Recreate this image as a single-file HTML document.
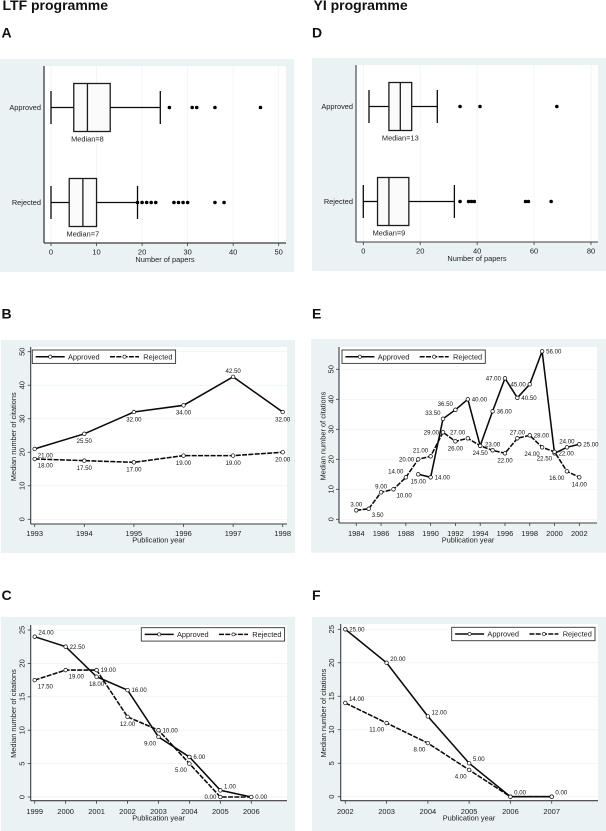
<!DOCTYPE html>
<html lang="en">
<head>
<meta charset="utf-8">
<title>LTF and YI programme charts</title>
<style>
  html, body { margin: 0; padding: 0; background: #ffffff; }
  #figure { display: block; width: 606px; height: 831px; font-family: "Liberation Sans", Arial, sans-serif; filter: blur(0.25px); }
  .heading { font-weight: bold; font-size: 14px; fill: #111111; }
</style>
</head>
<body>
<svg id="figure" xmlns="http://www.w3.org/2000/svg" width="606" height="831" viewBox="0 0 606 831">
  <rect x="0" y="0" width="606" height="831" fill="#ffffff"/>
  <text class="heading" x="2.5" y="10">LTF programme</text>
  <text class="heading" x="313.5" y="10">YI programme</text>
  <text class="heading" x="1.5" y="37.7">A</text>
  <text class="heading" x="1.5" y="318.5">B</text>
  <text class="heading" x="1.5" y="600">C</text>
  <text class="heading" x="312" y="37.7">D</text>
  <text class="heading" x="312" y="318.5">E</text>
  <text class="heading" x="312" y="600">F</text>
</svg>
<script>
// ---------- Panel A data ----------
const panelAApprovedBox = [0, 5, 8, 13, 24];
const panelARejectedBox = [0, 4, 7, 10, 19];
const panelAApprovedOutliers = [26, 31, 32, 36, 46];
const panelARejectedOutliers = [19, 20, 21, 22, 23, 27, 28, 29, 30, 36, 38];
const panelAXTicks = [0, 10, 20, 30, 40, 50];

// ---------- Panel D data ----------
const panelDApprovedBox = [2, 9, 13, 17, 26];
const panelDRejectedBox = [0, 5, 9, 16, 32];
const panelDApprovedOutliers = [34, 41, 68];
const panelDRejectedOutliers = [34, 37, 38, 39, 57, 58, 66];
const panelDXTicks = [0, 20, 40, 60, 80];

// ---------- Panel B data ----------
const panelBYears = [1993, 1994, 1995, 1996, 1997, 1998];
const panelBApproved = [21, 25.5, 32, 34, 42.5, 32];
const panelBRejected = [18, 17.5, 17, 19, 19, 20];
const panelBXTicks = [1993, 1994, 1995, 1996, 1997, 1998];
const panelBYTicks = [0, 10, 20, 30, 40, 50];

// ---------- Panel E data ----------
const panelEApprovedYears = [1989, 1990, 1991, 1992, 1993, 1994, 1995, 1996, 1997, 1998, 1999, 2000, 2001, 2002];
const panelEApproved = [15, 14, 33.5, 36.5, 40, 24.5, 36, 47, 40.5, 45, 56, 22, 24, 25];
const panelERejectedYears = [1984, 1985, 1986, 1987, 1988, 1989, 1990, 1991, 1992, 1993, 1994, 1995, 1996, 1997, 1998, 1999, 2000, 2001, 2002];
const panelERejected = [3, 3.5, 9, 10, 14, 20, 21, 29, 26, 27, 24.5, 23, 22, 27, 28, 24, 22.5, 16, 14];
const panelEXTicks = [1984, 1986, 1988, 1990, 1992, 1994, 1996, 1998, 2000, 2002];
const panelEYTicks = [0, 10, 20, 30, 40, 50];

// ---------- Panel C data ----------
const panelCYears = [1999, 2000, 2001, 2002, 2003, 2004, 2005, 2006];
const panelCApproved = [24, 22.5, 18, 16, 9, 6, 1, 0];
const panelCRejected = [17.5, 19, 19, 12, 10, 5, 0, 0];
const panelCXTicks = [1999, 2000, 2001, 2002, 2003, 2004, 2005, 2006];
const panelCYTicks = [0, 5, 10, 15, 20, 25];

// ---------- Panel F data ----------
const panelFYears = [2002, 2003, 2004, 2005, 2006, 2007];
const panelFApproved = [25, 20, 12, 5, 0, 0];
const panelFRejected = [14, 11, 8, 4, 0, 0];
const panelFXTicks = [2002, 2003, 2004, 2005, 2006, 2007];
const panelFYTicks = [0, 5, 10, 15, 20, 25];

// ---------- Value-label placement, by compass direction from each point ----------
const placeBApproved = ['SE', 'S', 'S', 'S', 'N', 'S'];
const placeBRejected = ['SE', 'S', 'S', 'S', 'S', 'S'];
const placeEApproved = ['S', 'E', 'NW', 'NW', 'E', '', 'E', 'W', 'E', 'W', 'E', 'E', 'N', 'E'];
const placeERejected = ['N', 'SE', 'N', 'SE', 'NW', 'W', 'NW', 'W', 'S', 'NW', 'S', 'N', 'S', 'N', 'E', 'SW', 'SW', 'SW', 'S'];
const placeCApproved = ['NE', 'E', 'S', 'E', 'SW', 'E', 'NE', 'E'];
const placeCRejected = ['SE', 'SE', 'E', 'S', 'E', 'SW', 'W', ''];
const placeFApproved = ['E', 'NE', 'NE', 'NE', 'NE', 'NE'];
const placeFRejected = ['NE', 'SW', 'SW', 'SW', '', ''];

// ---------- Drawing helpers ----------
const NS = 'http://www.w3.org/2000/svg';
const root = document.getElementById('figure');
const INK = '#0a0a0a';
const AXIS = '#3c3c3c';
const GRID = '#eaf2f3';
const PANEL = '#eaf2f3';
const TEXT = '#222222';

function make(tag, parent, props) {
  const el = document.createElementNS(NS, tag);
  for (const key in props) el.setAttribute(key, props[key]);
  parent.appendChild(el);
  return el;
}
function scale(d0, d1, p0, p1) {
  return function (v) { return p0 + (v - d0) * (p1 - p0) / (d1 - d0); };
}
const compass = {
  N:  { anchor: 'middle', dx: 0,    dy: -3.9 },
  S:  { anchor: 'middle', dx: 0,    dy: 9.4 },
  E:  { anchor: 'start',  dx: 4,    dy: 2.1 },
  W:  { anchor: 'end',    dx: -4,   dy: 2.1 },
  NE: { anchor: 'start',  dx: 3.7,  dy: -2 },
  NW: { anchor: 'end',    dx: -2.5, dy: -3.6 },
  SE: { anchor: 'start',  dx: 3,    dy: 8.4 },
  SW: { anchor: 'end',    dx: -2.5, dy: 8.6 }
};

function drawFrame(layout, key, xTicks, yTicks, xLabel) {
  const g = make('g', root, {});
  
  

  const bg = make('rect', g, { x: layout.bg[0], y: layout.bg[1], width: layout.bg[2], height: layout.bg[3], fill: PANEL });
  
  

  const plot = make('rect', g, { x: layout.left, y: layout.top, width: layout.right - layout.left, height: layout.bottom - layout.top, fill: '#ffffff' });
  
  

  const xOf = scale(layout.x[0], layout.x[1], layout.x[2], layout.x[3]);
  const yOf = layout.y ? scale(layout.y[0], layout.y[1], layout.y[2], layout.y[3]) : null;

  if (layout.vGrid) {
    xTicks.forEach(function (t) {
      const line = make('line', g, { x1: xOf(t), x2: xOf(t), y1: layout.top, y2: layout.bottom, stroke: GRID, 'stroke-width': 0.7 });
      
      
    });
  }
  if (yOf) {
    yTicks.forEach(function (t) {
      const line = make('line', g, { x1: layout.left, x2: layout.right, y1: yOf(t), y2: yOf(t), stroke: GRID, 'stroke-width': 0.7 });
      
      
      const tick = make('line', g, { x1: layout.left - 3, x2: layout.left, y1: yOf(t), y2: yOf(t), stroke: AXIS, 'stroke-width': 0.8 });
      
      
      const tx = layout.yTickX, ty = yOf(t);
      const lab = make('text', g, { x: tx, y: ty, 'text-anchor': 'middle', 'font-size': 7.5, fill: TEXT, transform: 'rotate(-90 ' + tx + ' ' + ty + ')' });
      lab.textContent = t;
      
      
    });
    const mid = layout.yTitleY;
    const title = make('text', g, { x: layout.yTitleX, y: mid, 'text-anchor': 'middle', 'font-size': 7.4, fill: TEXT, transform: 'rotate(-90 ' + layout.yTitleX + ' ' + mid + ')' });
    title.textContent = 'Median number of citations';
    
    
  }

  const yAxis = make('line', g, { x1: layout.left, x2: layout.left, y1: layout.top, y2: layout.bottom, stroke: AXIS, 'stroke-width': layout.axisWidth });
  
  

  const xAxis = make('line', g, { x1: layout.left, x2: layout.right, y1: layout.bottom, y2: layout.bottom, stroke: AXIS, 'stroke-width': layout.axisWidth });
  
  

  xTicks.forEach(function (t) {
    const tick = make('line', g, { x1: xOf(t), x2: xOf(t), y1: layout.bottom, y2: layout.bottom + 3, stroke: AXIS, 'stroke-width': 0.8 });
    
    
    const lab = make('text', g, { x: xOf(t), y: layout.xTickY, 'text-anchor': 'middle', 'font-size': 7.5, fill: TEXT });
    lab.textContent = t;
    
    
  });

  const xTitle = make('text', g, { x: layout.xTitleX, y: layout.xTitleY, 'text-anchor': 'middle', 'font-size': 7.4, fill: TEXT });
  xTitle.textContent = xLabel;
  
  

  return { g: g, xOf: xOf, yOf: yOf };
}

function drawBoxRow(frame, layout, rowY, name, stats, outliers) {
  const xOf = frame.xOf;
  const g = make('g', frame.g, {});
  
  

  const cat = make('text', g, { x: layout.left - 3, y: rowY + 2.5, 'text-anchor': 'end', 'font-size': 7.4, fill: TEXT });
  cat.textContent = name === 'approved' ? 'Approved' : 'Rejected';
  
  

  const lowWhisker = make('line', g, { x1: xOf(stats[0]), x2: xOf(stats[1]), y1: rowY, y2: rowY, stroke: INK, 'stroke-width': 1.3 });
  
  

  const highWhisker = make('line', g, { x1: xOf(stats[3]), x2: xOf(stats[4]), y1: rowY, y2: rowY, stroke: INK, 'stroke-width': 1.3 });
  
  

  const lowCap = make('line', g, { x1: xOf(stats[0]), x2: xOf(stats[0]), y1: rowY - 16.5, y2: rowY + 16.5, stroke: INK, 'stroke-width': 1.3 });
  
  

  const highCap = make('line', g, { x1: xOf(stats[4]), x2: xOf(stats[4]), y1: rowY - 16.5, y2: rowY + 16.5, stroke: INK, 'stroke-width': 1.3 });
  
  

  const box = make('rect', g, { x: xOf(stats[1]), y: rowY - 24, width: xOf(stats[3]) - xOf(stats[1]), height: 48, fill: '#fbfbfb', stroke: '#1c1c1c', 'stroke-width': 1.3 });
  
  

  const med = make('line', g, { x1: xOf(stats[2]), x2: xOf(stats[2]), y1: rowY - 24, y2: rowY + 24, stroke: '#1c1c1c', 'stroke-width': 1.3 });
  
  

  outliers.forEach(function (v) {
    const dot = make('circle', g, { cx: xOf(v), cy: rowY, r: 1.8, fill: '#000000' });
    
    
  });

  const label = make('text', g, { x: xOf(stats[2]), y: rowY + 34, 'text-anchor': 'middle', 'font-size': 7.4, fill: TEXT });
  label.textContent = 'Median=' + stats[2];
  
  
}

function drawSeries(frame, name, years, values, places, dash) {
  const xOf = frame.xOf, yOf = frame.yOf;
  const g = make('g', frame.g, {});
  
  

  const pts = years.map(function (yr, i) { return xOf(yr).toFixed(2) + ',' + yOf(values[i]).toFixed(2); }).join(' ');
  const line = make('polyline', g, { points: pts, fill: 'none', stroke: INK, 'stroke-width': 1.55, 'stroke-linejoin': 'miter' });
  if (dash) line.setAttribute('stroke-dasharray', '5 1.3');
  
  

  years.forEach(function (yr, i) {
    const mark = make('circle', g, { cx: xOf(yr), cy: yOf(values[i]), r: 1.8, fill: '#ffffff', stroke: INK, 'stroke-width': 0.7 });
    
    
  });

  years.forEach(function (yr, i) {
    const place = compass[places[i]];
    if (!place) return;
    const lab = make('text', g, { x: xOf(yr) + place.dx, y: yOf(values[i]) + place.dy, 'text-anchor': place.anchor, 'font-size': 6.1, fill: '#111111' });
    lab.textContent = values[i].toFixed(2);
    
    
  });
}

function drawLegend(frame, x, y) {
  const g = make('g', frame.g, {});
  
  

  const box = make('rect', g, { x: x, y: y, width: 143.3, height: 13.4, fill: '#ffffff', stroke: '#333333', 'stroke-width': 0.9 });
  
  

  const entries = [
    { name: 'approved', text: 'Approved', start: 3.4, textAt: 35.7, dash: false },
    { name: 'rejected', text: 'Rejected', start: 77.7, textAt: 111, dash: true }
  ];
  entries.forEach(function (en) {
    const sample = make('line', g, { x1: x + en.start, x2: x + en.start + 29, y1: y + 6.7, y2: y + 6.7, stroke: INK, 'stroke-width': 1.5 });
    if (en.dash) sample.setAttribute('stroke-dasharray', '5 1.3');
    
    

    const mark = make('circle', g, { cx: x + en.start + 14.5, cy: y + 6.7, r: 1.6, fill: '#ffffff', stroke: INK, 'stroke-width': 0.6 });
    
    

    const label = make('text', g, { x: x + en.textAt, y: y + 9.4, 'font-size': 7.4, fill: TEXT });
    label.textContent = en.text;
    
    
  });
}

// ---------- Panel layouts ----------
const layoutA = { bg: [0, 59, 294, 213], left: 44, right: 286, top: 66, bottom: 243, x: [0, 50, 51, 278.7], axisWidth: 1.3, vGrid: true, xTickY: 254.5, xTitleX: 165, xTitleY: 262, rows: [107.5, 202.5] };
const layoutD = { bg: [312, 58, 294, 213], left: 356, right: 598, top: 65, bottom: 242, x: [0, 80, 363.3, 591], axisWidth: 1.1, vGrid: true, xTickY: 253.5, xTitleX: 477, xTitleY: 261, rows: [106.5, 201.5] };
const layoutB = { bg: [1, 340, 294, 213], left: 30.7, right: 287, top: 347, bottom: 524, x: [1993, 1998, 34.7, 282.7], y: [0, 50, 519.3, 351.7], axisWidth: 1.1, yTickX: 24.3, yTitleX: 16, yTitleY: 436.7, xTickY: 536, xTitleX: 158.5, xTitleY: 542.5 };
const layoutE = { bg: [311, 339, 295, 213.7], left: 339, right: 597, top: 347, bottom: 523, x: [1984, 2002, 356.3, 579.3], y: [0, 50, 519.3, 369.3], axisWidth: 1.1, yTickX: 333.3, yTitleX: 325.5, yTitleY: 436, xTickY: 536, xTitleX: 468, xTitleY: 542.5 };
const layoutC = { bg: [1, 617, 294, 214], left: 30.7, right: 287, top: 625, bottom: 800.7, x: [1999, 2006, 34.7, 251.3], y: [0, 25, 797, 630], axisWidth: 1.1, yTickX: 24.3, yTitleX: 16, yTitleY: 713.5, xTickY: 814, xTitleX: 158.5, xTitleY: 820.5 };
const layoutF = { bg: [312, 617, 294, 214], left: 340.7, right: 598, top: 624, bottom: 800.7, x: [2002, 2007, 345.3, 551.7], y: [0, 25, 796.7, 629.3], axisWidth: 1.1, yTickX: 334, yTitleX: 326, yTitleY: 713, xTickY: 814, xTitleX: 469, xTitleY: 820.5 };

// ---------- Box plots ----------
const frameA = drawFrame(layoutA, 'a', panelAXTicks, [], 'Number of papers');
drawBoxRow(frameA, layoutA, layoutA.rows[0], 'approved', panelAApprovedBox, panelAApprovedOutliers);
drawBoxRow(frameA, layoutA, layoutA.rows[1], 'rejected', panelARejectedBox, panelARejectedOutliers);

const frameD = drawFrame(layoutD, 'd', panelDXTicks, [], 'Number of papers');
drawBoxRow(frameD, layoutD, layoutD.rows[0], 'approved', panelDApprovedBox, panelDApprovedOutliers);
drawBoxRow(frameD, layoutD, layoutD.rows[1], 'rejected', panelDRejectedBox, panelDRejectedOutliers);

// ---------- Line charts ----------
const frameB = drawFrame(layoutB, 'b', panelBXTicks, panelBYTicks, 'Publication year');
drawSeries(frameB, 'rejected', panelBYears, panelBRejected, placeBRejected, true);
drawSeries(frameB, 'approved', panelBYears, panelBApproved, placeBApproved, false);
drawLegend(frameB, 32.3, 350);

const frameE = drawFrame(layoutE, 'e', panelEXTicks, panelEYTicks, 'Publication year');
drawSeries(frameE, 'approved', panelEApprovedYears, panelEApproved, placeEApproved, false);
drawSeries(frameE, 'rejected', panelERejectedYears, panelERejected, placeERejected, true);
drawLegend(frameE, 342, 350);

const frameC = drawFrame(layoutC, 'c', panelCXTicks, panelCYTicks, 'Publication year');
drawSeries(frameC, 'rejected', panelCYears, panelCRejected, placeCRejected, true);
drawSeries(frameC, 'approved', panelCYears, panelCApproved, placeCApproved, false);
drawLegend(frameC, 141.3, 627.7);

const frameF = drawFrame(layoutF, 'f', panelFXTicks, panelFYTicks, 'Publication year');
drawSeries(frameF, 'rejected', panelFYears, panelFRejected, placeFRejected, true);
drawSeries(frameF, 'approved', panelFYears, panelFApproved, placeFApproved, false);
drawLegend(frameF, 451.7, 627.3);
</script>
</body>
</html>
